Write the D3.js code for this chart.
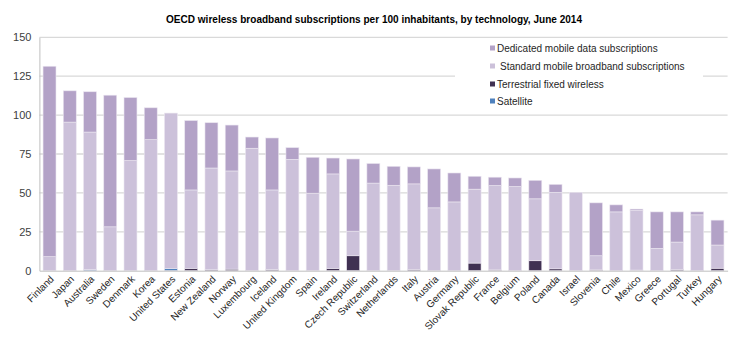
<!DOCTYPE html>
<html>
<head>
<meta charset="utf-8">
<script src="https://cdn.jsdelivr.net/npm/d3@7/dist/d3.min.js"></script>
<style>
  html, body { margin: 0; padding: 0; background: #fff; }
  svg { display: block; }
</style>
</head>
<body>
<svg id="chart" width="748" height="357"></svg>
<script>
const title = "OECD wireless broadband subscriptions per 100 inhabitants, by technology, June 2014";
const countries = ["Finland","Japan","Australia","Sweden","Denmark","Korea","United States","Estonia","New Zealand","Norway","Luxembourg","Iceland","United Kingdom","Spain","Ireland","Czech Republic","Switzerland","Netherlands","Italy","Austria","Germany","Slovak Republic","France","Belgium","Poland","Canada","Israel","Slovenia","Chile","Mexico","Greece","Portugal","Turkey","Hungary"];
const satellite   = [0,0,0.7,0,0,0,1.5,0,0,0,0,0,0,0,0,0,0,0,0,0,0,0,0,0,0,0,0,0,0,0,0,0,0,0];
const terrestrial = [0,0,0,0,0,0,0,1.5,0.6,1.0,0,0.7,0,0,1.5,9.6,0,0,0.8,0,0,4.9,0.5,0,6.4,1.2,0,0.5,0,0.4,0,0.8,0,1.6];
const standard    = [9.0,95.5,88.4,28.2,70.8,84.2,99.8,50.4,65.4,63.1,78.7,51.2,71.6,49.8,60.7,15.8,56.3,54.9,55.0,40.4,44.2,47.5,54.2,54.1,39.8,49.2,50.4,9.1,37.8,38.3,14.4,17.6,35.9,14.9];
const dedicated   = [122.4,20.1,25.9,84.6,40.5,20.5,0,44.6,29.1,29.5,7.2,33.4,7.5,23.1,10.2,46.4,12.6,12.2,10.9,25.0,18.6,8.3,5.4,5.5,11.9,5.1,0,34.0,4.5,0.9,23.4,19.4,1.9,16.0];
const seriesNames = ["Satellite","Terrestrial fixed wireless","Standard mobile broadband subscriptions","Dedicated mobile data subscriptions"];
const seriesColors = ["#4f81bd","#403152","#ccc1da","#b3a2c7"];
const yTicks = [0,25,50,75,100,125,150];

(function(){
const rows = countries.map((c,i)=>({country:c, s0:satellite[i], s1:terrestrial[i], s2:standard[i], s3:dedicated[i]}));
const keys = ["s0","s1","s2","s3"];
const stacked = d3.stack().keys(keys)(rows);

const svg = d3.select("#chart");
const mLeft = 39.4, mRight = 727.6, mTop = 37.3, mBottom = 270.7;

const x = d3.scaleBand().domain(countries).range([mLeft, mRight]).paddingInner(0.36).paddingOuter(0.18);
const y = d3.scaleLinear().domain([0,150]).range([mBottom, mTop]);

// gridlines
svg.append("g").selectAll("line").data(yTicks.filter(t=>t>0)).join("line")
  .attr("x1", mLeft).attr("x2", mRight)
  .attr("y1", d=>y(d)).attr("y2", d=>y(d))
  .attr("stroke", "#d9d9d9").attr("stroke-width", 1.3);

// y axis
const yAxis = d3.axisLeft(y).tickValues(yTicks).tickSize(0).tickPadding(8);
const gy = svg.append("g").attr("transform", `translate(${mLeft},0)`).call(yAxis);
gy.select(".domain").attr("stroke", "#bfbfbf").attr("stroke-width", 1);
gy.selectAll("text").attr("font-family", "Liberation Sans, Arial, sans-serif").attr("font-size", 11).attr("fill", "#404040");

// bars
svg.append("g").selectAll("g").data(stacked).join("g")
  .attr("fill", (d,i)=>seriesColors[i])
  .selectAll("rect").data(d=>d.map(v=>({v, c:v.data.country}))).join("rect")
  .attr("x", d=>x(d.c))
  .attr("width", x.bandwidth())
  .attr("y", d=>y(d.v[1]))
  .attr("height", d=>Math.max(0, y(d.v[0]) - y(d.v[1])))
  .attr("stroke", "#ebe6f0").attr("stroke-width", d=> (d.v[1]-d.v[0])>0.3 ? 0.6 : 0);

// x axis
const xAxis = d3.axisBottom(x).tickSize(0).tickPadding(0);
const gx = svg.append("g").attr("transform", `translate(0,${mBottom})`).call(xAxis);
gx.select(".domain").attr("stroke", "#bfbfbf").attr("stroke-width", 1);
gx.selectAll("text")
  .attr("font-family", "Liberation Sans, Arial, sans-serif").attr("font-size", 10).attr("fill", "#262626")
  .attr("text-anchor", "end")
  .attr("dy", null).attr("y", 0)
  .attr("transform", "translate(5,9) rotate(-45)");

// legend
const lg = svg.append("g");
lg.append("rect").attr("x", 455).attr("y", 40).attr("width", 248).attr("height", 70).attr("fill", "#fff");
const legendOrder = [3,2,1,0];
const legendY = [48, 66, 84, 101];
legendOrder.forEach((si, k)=>{
  lg.append("rect").attr("x", 490).attr("y", legendY[k]-2.5).attr("width", 5).attr("height", 5).attr("fill", seriesColors[si]);
  lg.append("text").attr("x", si===2 ? 500 : 497).attr("y", legendY[k]).attr("dy", "0.35em")
    .attr("font-family", "Liberation Sans, Arial, sans-serif").attr("font-size", 10).attr("fill", "#262626")
    .text(seriesNames[si]);
});

// title
svg.append("text").attr("x", 374).attr("y", 23).attr("text-anchor", "middle")
  .attr("font-family", "Liberation Sans, Arial, sans-serif").attr("font-weight", "bold").attr("font-size", 10.5)
  .attr("textLength", 416).attr("lengthAdjust", "spacingAndGlyphs")
  .attr("fill", "#000").text(title);
})();
</script>
</body>
</html>
